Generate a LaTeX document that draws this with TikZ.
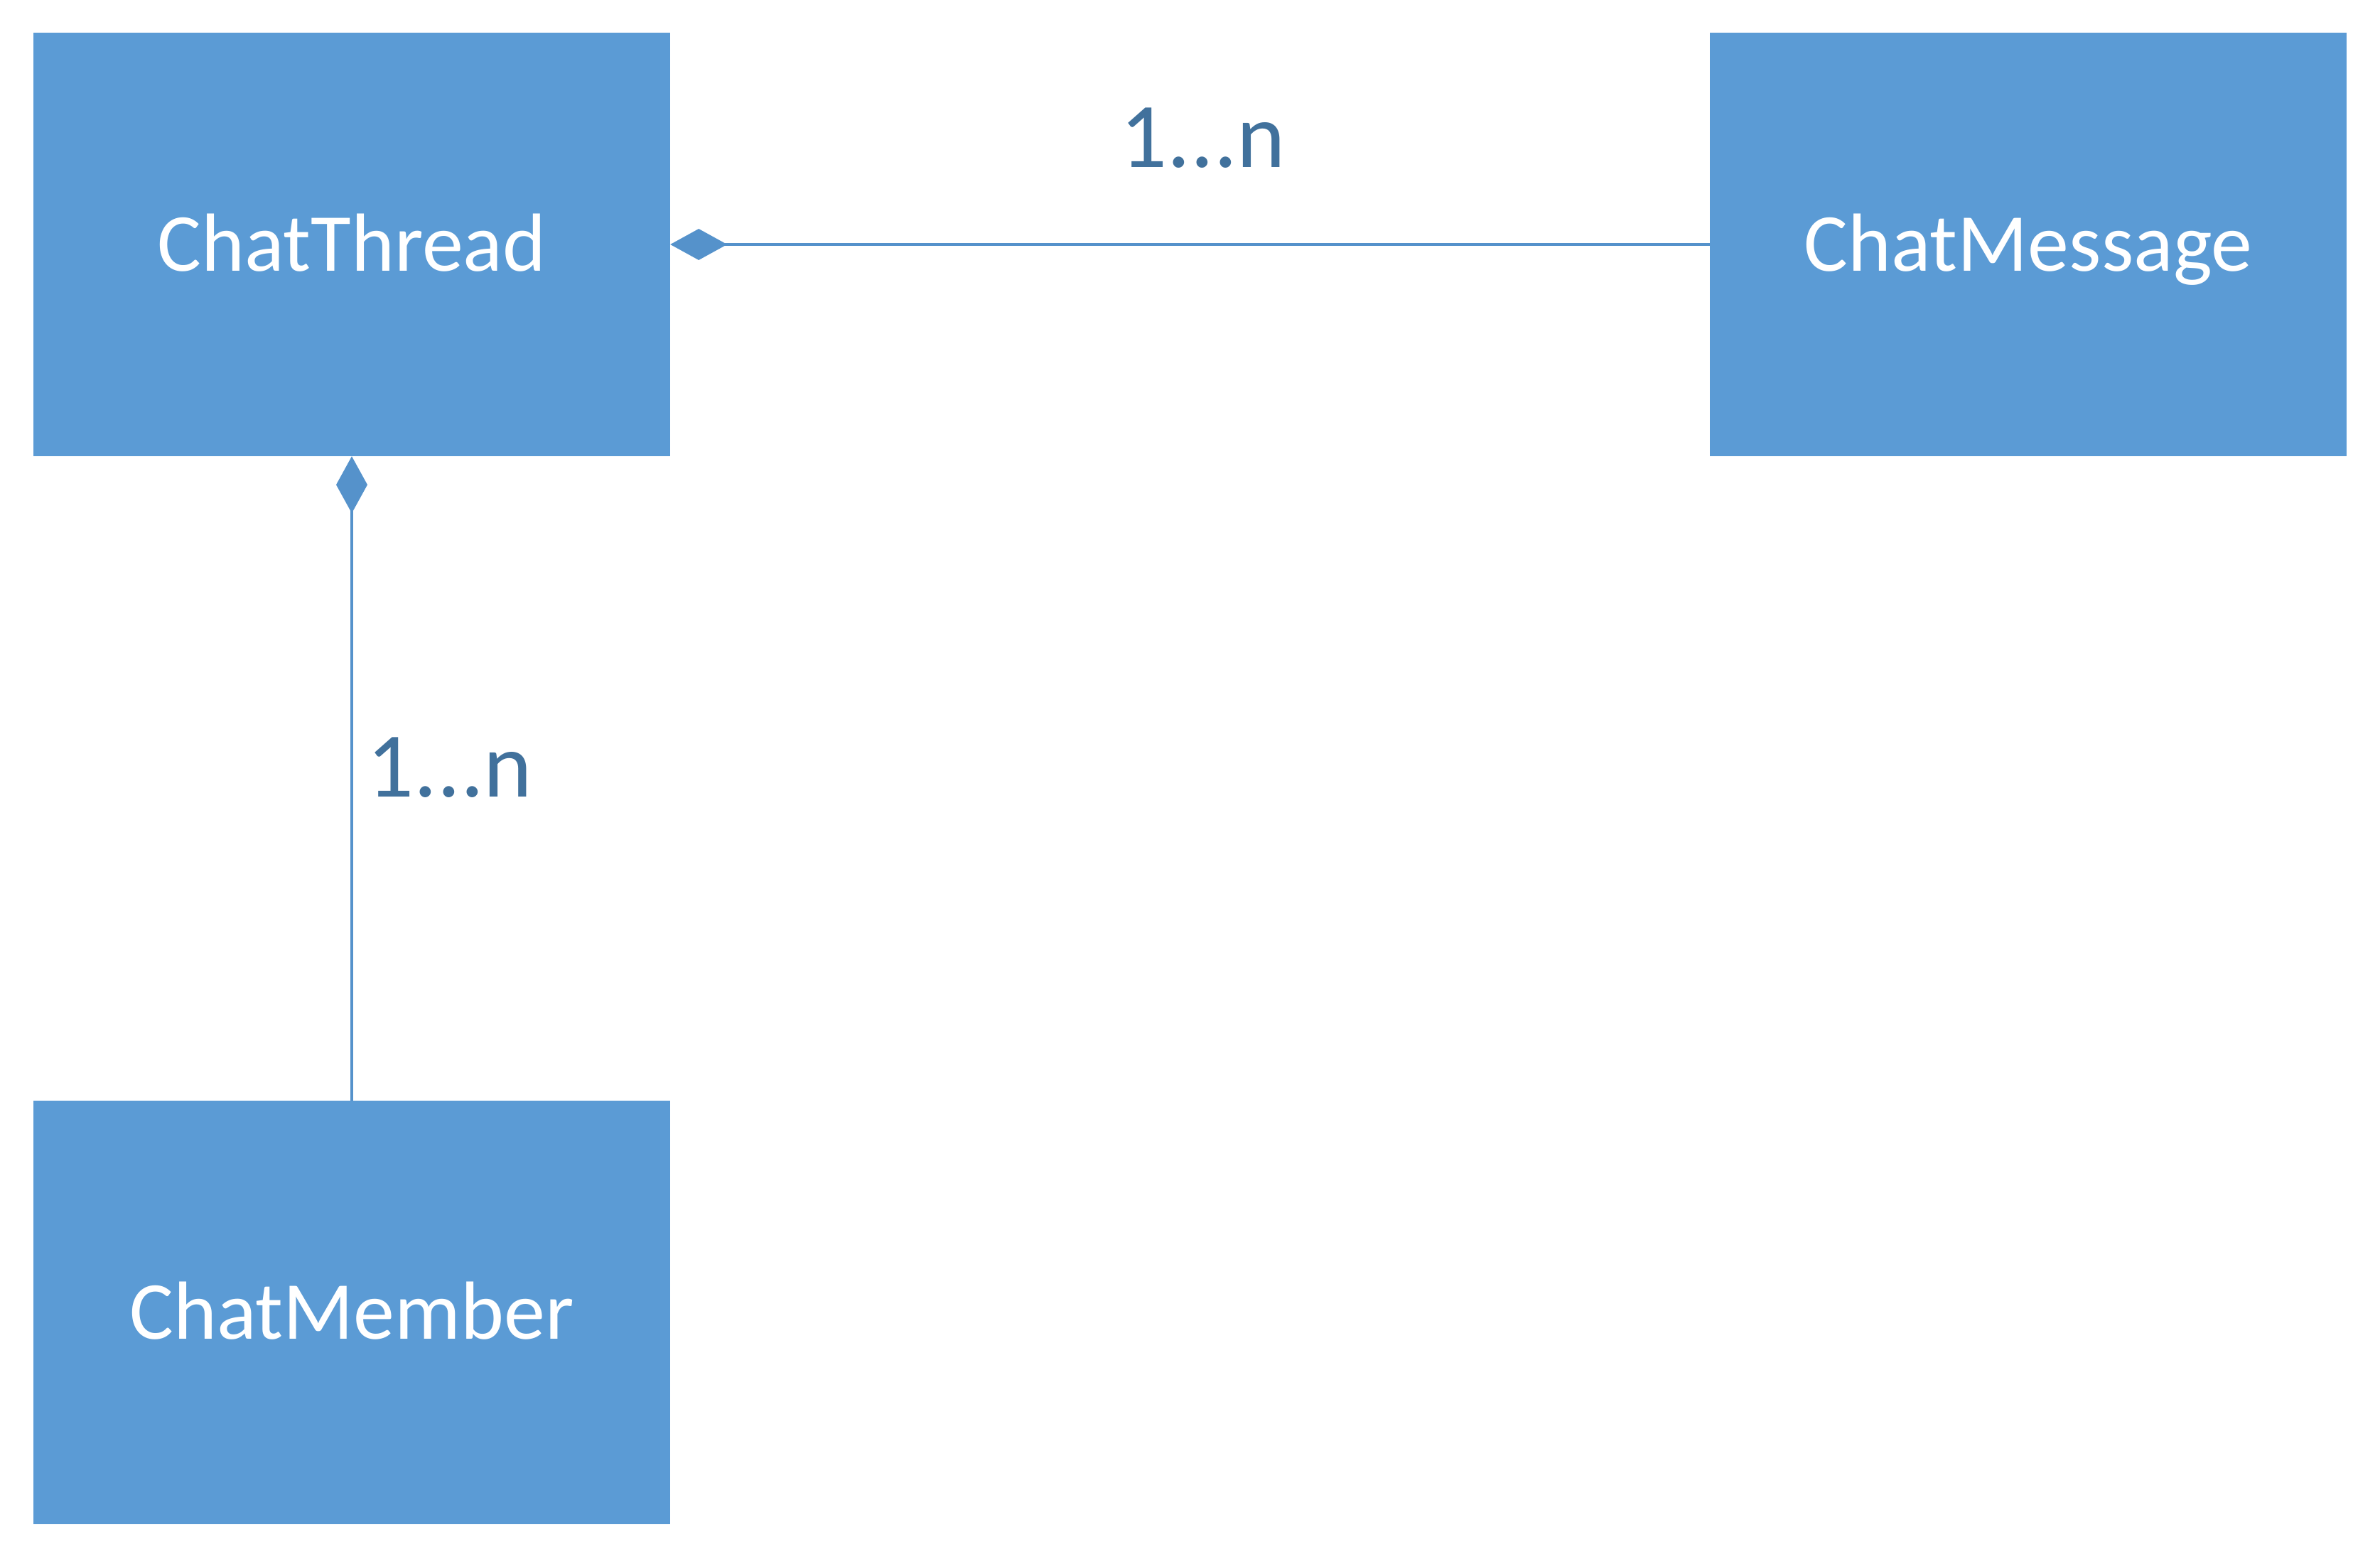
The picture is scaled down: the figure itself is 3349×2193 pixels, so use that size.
\documentclass[tikz,border=0pt]{standalone}
\usepackage{fontspec}
\setmainfont{Carlito}
\usetikzlibrary{arrows.meta}
\definecolor{boxblue}{RGB}{91,155,213}
\definecolor{linkblue}{RGB}{85,146,203}
\definecolor{labelblue}{RGB}{65,113,156}
\begin{document}
\begin{tikzpicture}[x=1pt,y=-1pt,
  classbox/.style={fill=boxblue, draw=none, inner sep=0pt,
    minimum width=896pt, minimum height=596pt, text=white,
    font=\fontsize{116}{140}\selectfont, text height=75pt, text depth=0pt},
  link/.style={draw=linkblue, line width=4.5pt},
  compo/.style={-{Diamond[length=80pt,width=44pt,fill=linkblue]}},
  mult/.style={text=labelblue, font=\fontsize{130}{150}\selectfont, anchor=base, inner sep=0pt}]
\useasboundingbox (0,0) rectangle (3349,2193);
\node[classbox] (thread) at (495,344) {ChatThread};
\node[classbox] (message) at (2854,344) {ChatMessage};
\node[classbox] (member) at (495,1847) {ChatMember};
\draw[link,compo] (message.west) -- (thread.east);
\draw[link,compo] (member.north) -- (thread.south);
\node[mult] (m1) at (1693,235) {1...n};
\node[mult] (m2) at (633,1121) {1...n};
\end{tikzpicture}
\end{document}
